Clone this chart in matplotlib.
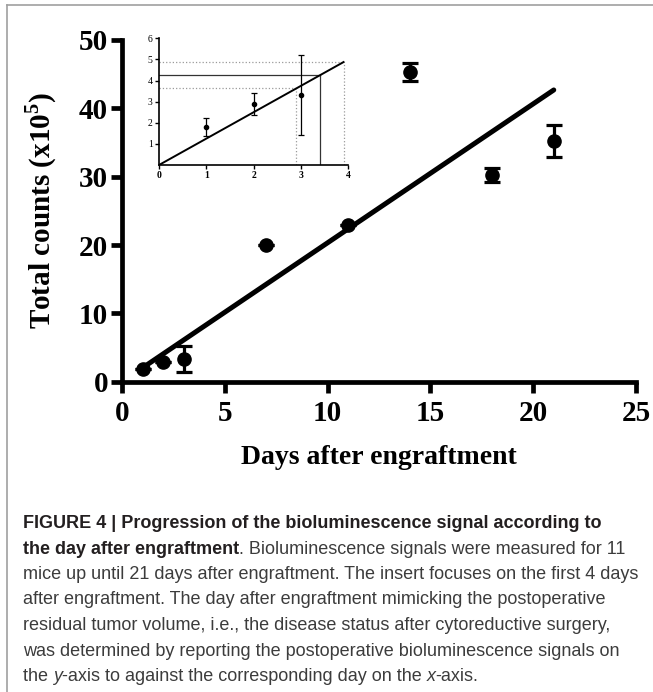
import numpy as np
import matplotlib
matplotlib.use('Agg')
import matplotlib.pyplot as plt
from matplotlib.lines import Line2D

plt.rcParams['mathtext.fontset'] = 'custom'
plt.rcParams['mathtext.rm'] = 'Liberation Serif:bold'
plt.rcParams['mathtext.bf'] = 'Liberation Serif:bold'

# main panel data
days = np.array([1, 2, 3, 7, 11, 14, 18, 21])
counts = np.array([1.8, 2.9, 3.3, 20.0, 23.0, 45.3, 30.2, 35.2])
counts_err = np.array([0.0, 0.0, 1.9, 0.0, 0.0, 1.35, 1.0, 2.3])

# insert: first days only
ins_days = np.array([1, 2, 3])
ins_counts = np.array([1.8, 2.9, 3.3])
ins_err = np.array([0.42, 0.53, 1.9])
ins_guides_x = np.array([2.9, 3.4, 3.9])
ins_guides_style = [':', '-', ':']
ins_guides_color = ['#9a9a9a', '#333333', '#9a9a9a']

x_ticks = [0, 5, 10, 15, 20, 25]
y_ticks = [0, 10, 20, 30, 40, 50]

caption_lines = [
    [("FIGURE 4 | Progression of the bioluminescence signal according to", 'bold', 'normal')],
    [("the day after engraftment", 'bold', 'normal'),
     (". Bioluminescence signals were measured for 11", 'normal', 'normal')],
    [("mice up until 21 days after engraftment. The insert focuses on the first 4 days", 'normal', 'normal')],
    [("after engraftment. The day after engraftment mimicking the postoperative", 'normal', 'normal')],
    [("residual tumor volume, i.e., the disease status after cytoreductive surgery,", 'normal', 'normal')],
    [("was determined by reporting the postoperative bioluminescence signals on", 'normal', 'normal')],
    [("the ", 'normal', 'normal'), ("y", 'normal', 'italic'),
     ("-axis to against the corresponding day on the ", 'normal', 'normal'),
     ("x", 'normal', 'italic'), ("-axis.", 'normal', 'normal')],
]

# regression through the origin
slope = np.sum(days * counts) / np.sum(days * days)
ins_slope = np.sum(ins_days * ins_counts) / np.sum(ins_days * ins_days)

W, H = 653, 692
fig = plt.figure(figsize=(W / 100, H / 100), dpi=100)

serif = 'Liberation Serif'

####################################################################################################
#                   main axes
####################################################################################################
ax = fig.add_axes([122 / W, (H - 381.7) / H, 514 / W, 341.7 / H])
fit_x = np.array([days.min(), days.max()])
ax.plot(fit_x, slope * fit_x, color='black', lw=3.6, solid_capstyle='round', zorder=2)
ax.errorbar(days, counts, yerr=counts_err, fmt='o', color='black', ms=9.5,
            elinewidth=2.3, capsize=5.5, capthick=2.3, zorder=3)
ax.set_xlim(0, 25)
ax.set_ylim(0, 50)
ax.set_xticks(x_ticks)
ax.set_yticks(y_ticks)
for s in ['top', 'right']:
    ax.spines[s].set_visible(False)
for s in ['left', 'bottom']:
    ax.spines[s].set_linewidth(3.4)
ax.tick_params(width=3.4, length=8, labelsize=21)
ax.tick_params(axis='x', pad=5)
ax.tick_params(axis='y', pad=2)
for lab in ax.get_xticklabels() + ax.get_yticklabels():
    lab.set_fontfamily(serif)
    lab.set_fontweight('bold')
ax.set_xlabel('Days after engraftment', fontsize=20, fontweight='bold', family=serif, labelpad=13)
ax.set_ylabel(r'Total counts (x10$^5$)', fontsize=21, fontweight='bold', family=serif, labelpad=14)

####################################################################################################
#                   insert
####################################################################################################
ins = fig.add_axes([159 / W, (H - 165) / H, 189.3 / W, 126.7 / H])
for gx, ls, c in zip(ins_guides_x, ins_guides_style, ins_guides_color):
    gy = ins_slope * gx
    ins.plot([gx, gx], [0, gy], ls=ls, color=c, lw=0.9, zorder=1)
    ins.plot([0, gx], [gy, gy], ls=ls, color=c, lw=0.9, zorder=1)
ins_fit_x = np.array([0, ins_guides_x.max()])
ins.plot(ins_fit_x, ins_slope * ins_fit_x, color='black', lw=1.4, zorder=2)
ins.errorbar(ins_days, ins_counts, yerr=ins_err, fmt='o', color='black', ms=3,
             elinewidth=0.9, capsize=2.5, capthick=0.9, zorder=3)
ins.set_xlim(0, 4)
ins.set_ylim(0, 6)
ins.set_xticks([0, 1, 2, 3, 4])
ins.set_yticks([1, 2, 3, 4, 5, 6])
ins.patch.set_alpha(0)
for s in ['top', 'right']:
    ins.spines[s].set_visible(False)
for s in ['left', 'bottom']:
    ins.spines[s].set_linewidth(1.2)
ins.tick_params(width=1.0, length=3, labelsize=7, pad=1.5)
for lab in ins.get_xticklabels():
    lab.set_fontfamily(serif)
    lab.set_fontweight('bold')
for lab in ins.get_yticklabels():
    lab.set_fontfamily(serif)

####################################################################################################
#                   frame and caption
####################################################################################################
fig.add_artist(Line2D([7 / W, 7 / W], [0, (H - 5) / H], color='#a0a0a0', lw=1.2))
fig.add_artist(Line2D([7 / W, 1], [(H - 5) / H, (H - 5) / H], color='#a0a0a0', lw=1.2))

cap_family = ['Liberation Sans', 'DejaVu Sans']
y0 = H - 532
for i, line in enumerate(caption_lines):
    y = (y0 - i * 25.5) / H
    last = None
    for txt, weight, style in line:
        color = '#231f20' if weight == 'bold' else '#3c3c3c'
        kw = dict(fontsize=13, fontweight=weight, fontstyle=style,
                  family=cap_family, color=color, va='bottom', ha='left')
        if last is None:
            last = fig.text(23 / W, y, txt, **kw)
        else:
            # chain the next piece right after the previous one
            last = ax.annotate(txt, xy=(1, 0), xycoords=last, annotation_clip=False, **kw)

fig.savefig('out.png', dpi=100)
